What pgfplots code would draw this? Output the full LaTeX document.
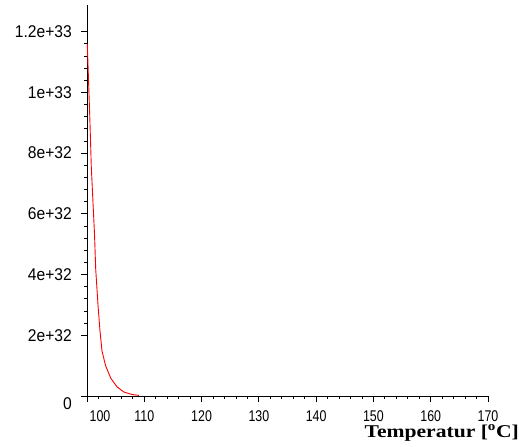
\documentclass[border=0pt]{standalone}
\usepackage{fontspec}
\setmainfont{Liberation Sans}
\newfontfamily\tickfont[FakeStretch=0.92]{Liberation Sans}
\newfontfamily\xtickfont[FakeStretch=0.8]{Liberation Sans}
\newfontfamily\labelfont[FakeStretch=1.2]{Liberation Serif}
\usepackage{pgfplots}
\pgfplotsset{compat=1.18}

\begin{document}
\begin{tikzpicture}
\begin{axis}[
    at={(0,0)}, anchor=south west,
    scale only axis,
    width=401bp, height=391bp,
    axis lines=left,
    axis line style={-, black, line width=0.8bp},
    xmin=100, xmax=170,
    ymin=0, ymax=1.288e33,
    xtick={100,110,...,170},
    xticklabels={\hspace*{26bp}100,110,120,130,140,150,160,170},
    minor x tick num=4,
    ytick={2e32,4e32,6e32,8e32,1e33,1.2e33},
    yticklabels={2e+32,4e+32,6e+32,8e+32,1e+33,1.2e+33},
    scaled y ticks=false,
    extra y ticks={0},
    extra y tick labels={0},
    extra y tick style={yticklabel style={yshift=-8bp}},
    minor y tick num=4,
    tick align=outside,
    major tick length=6bp,
    minor tick length=3bp,
    tick style={black, line width=0.8bp},
    yticklabel style={font=\tickfont\fontsize{17bp}{17bp}\selectfont, anchor=east, inner sep=0pt, xshift=-9bp},
    xticklabel style={font=\xtickfont\fontsize{15.5bp}{15.5bp}\selectfont, anchor=north, inner sep=0pt, yshift=-8bp},
    xlabel={Temperatur [\textsuperscript{o}C]},
    xlabel style={font=\labelfont\bfseries\fontsize{18bp}{18bp}\selectfont,
        at={(rel axis cs:1,0)}, anchor=base east, inner sep=0pt, xshift=31bp, yshift=-41bp},
    clip=false,
]
\addplot[red, line width=0.9bp] coordinates {
    (100.05,11.6e32)(100.52,9.0e32)(100.75,7.55e32)(101.05,6.36e32)
    (101.31,5.34e32)(101.52,4.18e32)(101.92,3.0e32)(102.27,2.14e32)
    (102.62,1.48e32)(103.26,0.99e32)(104.14,0.59e32)(105.24,0.30e32)
    (106.46,0.13e32)(107.85,0.05e32)(109.07,0.02e32)
};
\end{axis}
\path (-87bp,-51bp) rectangle (432bp,396bp);
\end{tikzpicture}
\end{document}
